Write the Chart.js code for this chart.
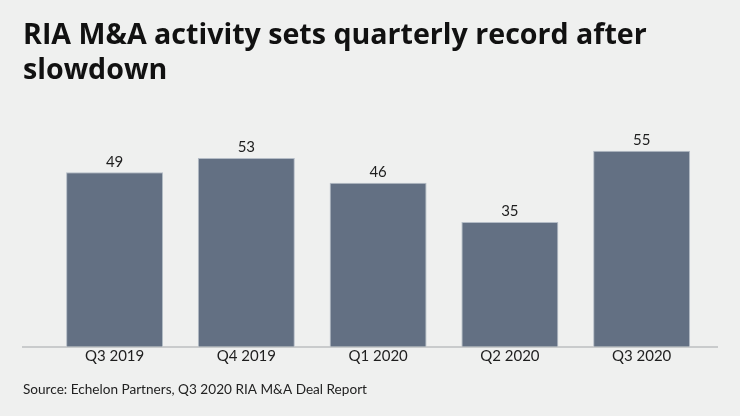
<!DOCTYPE html>
<html>
<head>
<meta charset="utf-8">
<script src="https://cdn.jsdelivr.net/npm/chart.js@4/dist/chart.umd.min.js"></script>
<style>
  html, body { margin: 0; padding: 0; background: #eff0ef; }
  #wrap { width: 740px; height: 416px; position: relative; }
</style>
</head>
<body>
<div id="wrap"><canvas id="dealsChart"></canvas></div>
<script>
/* ── Data ── */
const quarters = ['Q3 2019', 'Q4 2019', 'Q1 2020', 'Q2 2020', 'Q3 2020'];
const deals    = [49, 53, 46, 35, 55];

const titleLines = ['RIA M&A activity sets quarterly record after', 'slowdown'];
const sourceText = 'Source: Echelon Partners, Q3 2020 RIA M&A Deal Report';

const FONT = 'Lato, "Open Sans", sans-serif';
const TITLE_FONT = '"Open Sans", Lato, sans-serif';

/* ── Value labels above each bar ── */
const valueLabels = {
  id: 'valueLabels',
  afterDatasetsDraw(chart) {
    const { ctx } = chart;
    const meta = chart.getDatasetMeta(0);
    ctx.save();
    ctx.font = '15px ' + FONT;
    ctx.fillStyle = '#1e1e1e';
    ctx.textAlign = 'center';
    ctx.textBaseline = 'bottom';
    meta.data.forEach((bar, i) => {
      ctx.fillText(String(deals[i]), bar.x, bar.y - 3);
    });
    ctx.restore();
  },
};

new Chart(document.getElementById('dealsChart').getContext('2d'), {
  type: 'bar',
  data: {
    datasets: [{
      data: deals.map((v, i) => ({ x: i, y: v })),
      backgroundColor: '#637083',
      borderColor: '#b4bcc6',
      borderWidth: 1,
      categoryPercentage: 1,
      barPercentage: 0.736,
    }],
  },
  options: {
    responsive: true,
    maintainAspectRatio: false,
    animation: false,
    layout: { padding: { left: 23, right: 23, top: 0, bottom: 0 } },
    plugins: {
      legend: { display: false },
      tooltip: { enabled: false },
      title: {
        display: true,
        text: titleLines,
        align: 'start',
        color: '#111',
        font: { family: TITLE_FONT, size: 28.6, weight: 'bold', lineHeight: '35px' },
        padding: { top: 18, bottom: 45 },
      },
      subtitle: {
        display: true,
        text: sourceText,
        position: 'bottom',
        align: 'start',
        color: '#222',
        font: { family: FONT, size: 13.6, lineHeight: 1.2 },
        padding: { top: 17, bottom: 18 },
      },
    },
    scales: {
      x: {
        type: 'linear',
        offset: false,
        min: -0.695,
        max: 4.572,
        grid: { display: false, offset: false, drawTicks: false },
        border: { display: true, color: '#c9cbcc', width: 2 },
        afterBuildTicks: axis => { axis.ticks = quarters.map((q, i) => ({ value: i })); },
        ticks: {
          autoSkip: false,
          maxRotation: 0,
          padding: 0,
          color: '#1e1e1e',
          font: { family: FONT, size: 15 },
          callback: v => quarters[v],
        },
      },
      y: {
        display: false,
        min: 0,
        max: 60,
      },
    },
  },
  plugins: [valueLabels],
});
</script>
</body>
</html>
